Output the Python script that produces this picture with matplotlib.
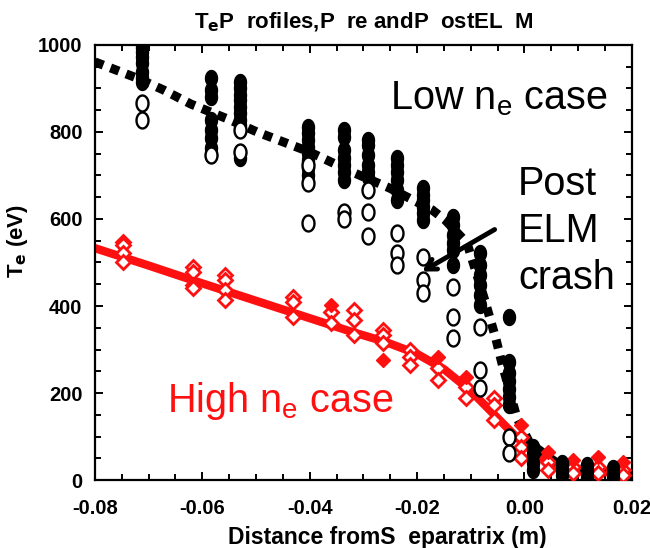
import matplotlib
matplotlib.use("Agg")
import matplotlib.pyplot as plt
import numpy as np
from matplotlib.path import Path

# black dashed fit (low density case)
low_fit_x = [-0.080, -0.0722, -0.0673, -0.0621, -0.0549, -0.0498, -0.0400, -0.0321, -0.0251,
             -0.0172, -0.0148, -0.0107, -0.0074, -0.0053, -0.0042, -0.0014, 0.0010, 0.0066,
             0.0140, 0.0200]
low_fit_y = [961, 924, 897, 864, 828, 800, 754, 708, 671, 621, 598, 545, 414, 324, 269, 143,
             85, 34, 18, 11]

# pre-ELM points (filled circles), one list per radial position
pre_x = [-0.0712, -0.0584, -0.0530, -0.0403, -0.0336, -0.0292, -0.0238, -0.0189, -0.0133,
         -0.0083, -0.0029, 0.0016, 0.0070, 0.0116, 0.0165]
pre_y = [[1000, 993, 984, 972, 959, 938, 924, 915],
         [924, 897, 880, 828, 805, 786, 763, 747],
         [915, 901, 885, 874, 858, 844, 828, 816, 754, 740],
         [811, 798, 782, 766, 752, 736, 717, 701],
         [805, 789, 759, 740, 724, 708, 690],
         [782, 770, 747, 724, 708, 697],
         [740, 724, 708, 690, 667, 644],
         [671, 655, 644, 628, 614, 598],
         [605, 586, 563, 545, 529, 494],
         [522, 494, 471, 448, 425, 402],
         [375, 271, 246, 228, 209, 190, 172],
         [76, 60, 40, 23],
         [39, 25, 12],
         [34, 20, 5],
         [28, 14, 5]]

# post-ELM points (open circles)
post_x = [-0.0712, -0.0584, -0.0530, -0.0403, -0.0336, -0.0292, -0.0238, -0.0189, -0.0133,
          -0.0083, -0.0029]
post_y = [[867, 828], [747], [805, 754], [724, 683, 591], [616, 600], [667, 616, 561],
          [568, 522, 494], [513, 460, 430], [444, 375, 326], [352, 253, 211], [99, 62]]

# red fit (high density case)
high_fit_x = [-0.080, -0.070, -0.060, -0.050, -0.040, -0.032, -0.026, -0.020, -0.015, -0.010,
              -0.006, -0.002, 0.002, 0.006, 0.010, 0.020]
high_fit_y = [533, 493, 452, 412, 372, 340, 318, 290, 255, 205, 155, 105, 60, 32, 20, 16]

# red open diamonds
high_x = [-0.0748, -0.0617, -0.0558, -0.0431, -0.0361, -0.0318, -0.0264, -0.0213, -0.0161,
          -0.0109, -0.0057, -0.0007, 0.0044, 0.0090, 0.0137, 0.0183]
high_y = [[547, 540, 522, 501], [490, 478, 448, 441], [471, 460, 437, 414], [421, 409, 375],
          [386, 361], [391, 368, 333], [345, 333, 315], [299, 283, 264], [257, 230],
          [214, 189], [189, 172, 138], [99, 76, 51], [41, 23], [30, 16], [30, 16], [23, 11]]

# red filled diamonds
high_fill_x = [-0.0361, -0.0264, -0.0161, -0.0109, -0.0007, 0.0044, 0.0090, 0.0137, 0.0183]
high_fill_y = [402, 276, 283, 237, 126, 64, 46, 53, 41]


def flatten(xs, ys):
    fx, fy = [], []
    for x, col in zip(xs, ys):
        fx += [x] * len(col)
        fy += col
    return fx, fy


plt.rcParams['font.family'] = ['Liberation Sans', 'DejaVu Sans']

t = np.linspace(0, 2 * np.pi, 40)
ellipse = Path(np.column_stack([0.75 * np.cos(t), np.sin(t)]), closed=True)

fig = plt.figure(figsize=(6.5, 5.48), dpi=100)
ax = fig.add_axes([0.146, 0.124, 0.826, 0.794])

ax.plot(high_fit_x, high_fit_y, color='#ff1010', lw=6, solid_capstyle='butt', zorder=2)
ax.plot(low_fit_x, low_fit_y, color='black', lw=6.5, dashes=(1.0, 0.85),
        dash_capstyle='butt', zorder=3)

hx, hy = flatten(high_x, high_y)
ax.plot(hx, hy, 'D', ms=7, mfc='white', mec='#ff1010', mew=2.0, ls='none', zorder=4)
ax.plot(high_fill_x, high_fill_y, 'D', ms=7.5, color='#ff1010', ls='none', zorder=4)

px, py = flatten(pre_x, pre_y)
ax.plot(px, py, marker=ellipse, ms=11.5, color='black', ls='none', zorder=5)
qx, qy = flatten(post_x, post_y)
ax.plot(qx, qy, marker=ellipse, ms=11.5, mfc='white', mec='black', mew=1.7, ls='none',
        zorder=5)

ax.set_xlim(-0.08, 0.02)
ax.set_ylim(0, 1000)
ax.set_xticks(np.arange(-0.08, 0.021, 0.02))
ax.set_xticks(np.arange(-0.08, 0.021, 0.005), minor=True)
ax.set_yticks(np.arange(0, 1001, 200))
ax.set_yticks(np.arange(0, 1001, 50), minor=True)
ax.set_xticklabels(['-0.08', '-0.06', '-0.04', '-0.02', '0.00', '0.02'])
for s in ax.spines.values():
    s.set_linewidth(1.6)
ax.tick_params(which='both', direction='in', top=True, right=True, width=1.4)
ax.tick_params(which='major', length=6)
ax.tick_params(which='minor', length=4)
ax.tick_params(axis='x', pad=14, labelsize=14.5)
ax.tick_params(axis='y', pad=9, labelsize=14.5)
for lab in ax.get_xticklabels() + ax.get_yticklabels():
    lab.set_fontweight('bold')

ax.set_xlabel('Distance fromS  eparatrix (m)', fontsize=16.5, fontweight='bold')
ax.xaxis.set_label_coords(0.545, -0.105)
ax.set_ylabel('T$_\\mathbf{e}$ (eV)', fontsize=16, fontweight='bold')
ax.yaxis.set_label_coords(-0.12, 0.55)
ax.set_title('T$_\\mathbf{e}$P  rofiles,P  re andP  ostEL  M', fontsize=16,
             fontweight='bold', pad=12)

ax.text(-0.0251, 851, 'Low n$_\\mathregular{e}$ case', fontsize=28.5, va='baseline')
ax.text(-0.0012, 724, 'Post\nELM\ncrash', fontsize=28.5, va='top', linespacing=1.3)
ax.text(-0.0666, 156, 'High n$_\\mathregular{e}$ case', fontsize=28.5, va='baseline',
        color='#ff1010')
ax.annotate('', xy=(-0.0195, 476), xytext=(-0.0051, 579),
            arrowprops=dict(arrowstyle='->,head_length=0.7,head_width=0.4', lw=3.5,
                            color='black'))

fig.savefig('out.png', dpi=100)
